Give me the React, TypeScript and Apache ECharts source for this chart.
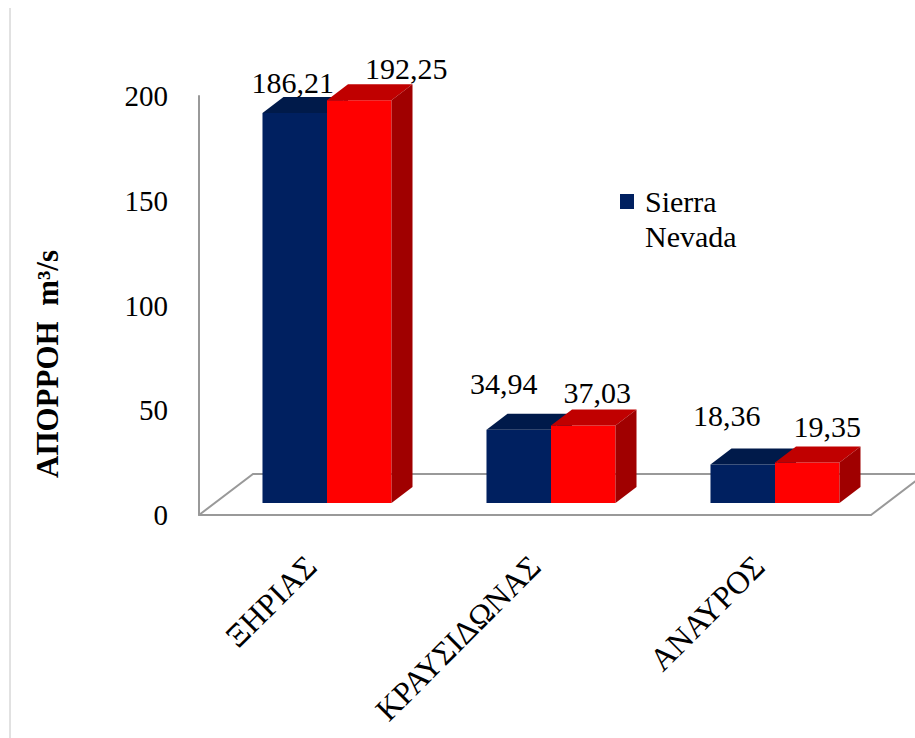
import React, { useEffect, useRef } from "react";
import * as echarts from "echarts";

const categories = ["ΞΗΡΙΑΣ", "ΚΡΑΥΣΙΔΩΝΑΣ", "ΑΝΑΥΡΟΣ"];
const sierraNevada = [186.21, 34.94, 18.36];
const secondSeries = [192.25, 37.03, 19.35];
const yTicks = { min: 0, max: 200, interval: 50 };

// label nudges (style only): [dx from front-face centre, dy from back-top edge]
const navyLabelNudge = [[-2, -14], [-15, -30], [-16, -33]];
const redLabelNudge = [[47, -16], [14, -17], [20, -20]];

const FONT = "Liberation Serif, Times New Roman, DejaVu Serif, serif";
const GRID = { left: 199, top: 96, width: 672, height: 419 };
const FLOOR_DX = 54, FLOOR_DY = -41; // floor depth
const BAR_OFF_X = 16, BAR_OFF_Y = -12; // floor front -> bar front
const BAR_DX = 21, BAR_DY = -16; // bar depth
const BAR_FRAC = 0.288;

const COLORS = [
  { front: "#002060", top: "#001A4A", side: "#00163D" },
  { front: "#FF0000", top: "#C00000", side: "#A00000" },
];

function makeRender(k: number, nudges: number[][]) {
  return (params: any, api: any) => {
    const ci = api.value(0);
    const v = api.value(1);
    const base = api.coord([ci, 0]);
    const top = api.coord([ci, v]);
    const band = api.size([1, 0])[0];
    const bw = band * BAR_FRAC;
    const x0 = base[0] + BAR_OFF_X - bw + k * bw;
    const x1 = x0 + bw;
    const yb = base[1] + BAR_OFF_Y;
    const yt = top[1] + BAR_OFF_Y;
    const c = COLORS[k];
    const nd = nudges[params.dataIndex] || [0, -14];
    return {
      type: "group",
      children: [
        { type: "rect", shape: { x: x0, y: yt, width: bw, height: yb - yt }, style: { fill: c.front } },
        {
          type: "polygon",
          shape: { points: [[x0, yt], [x1, yt], [x1 + BAR_DX, yt + BAR_DY], [x0 + BAR_DX, yt + BAR_DY]] },
          style: { fill: c.top },
        },
        {
          type: "polygon",
          shape: { points: [[x1, yt], [x1 + BAR_DX, yt + BAR_DY], [x1 + BAR_DX, yb + BAR_DY], [x1, yb]] },
          style: { fill: c.side },
        },
        {
          type: "text",
          style: {
            text: v.toFixed(2).replace(".", ","),
            x: (x0 + x1) / 2 + nd[0],
            y: yt + BAR_DY + nd[1],
            align: "center",
            verticalAlign: "middle",
            fontFamily: FONT,
            fontSize: 30,
            fill: "#000",
          },
          z2: 10,
        },
      ],
    };
  };
}

export default function App() {
  const ref = useRef<HTMLDivElement>(null);
  useEffect(() => {
    if (!ref.current) return;
    const chart = echarts.init(ref.current, null, { renderer: "svg" });
    const fl = GRID.left, fr = GRID.left + GRID.width, fy = GRID.top + GRID.height;
    chart.setOption({
      animation: false,
      backgroundColor: "#fff",
      textStyle: { fontFamily: FONT },
      grid: { ...GRID, containLabel: false },
      xAxis: {
        type: "category",
        data: categories,
        boundaryGap: true,
        axisLine: { show: true, lineStyle: { color: "#999", width: 2 } },
        axisTick: { show: false },
        axisLabel: { rotate: 45, margin: 46, interval: 0, fontFamily: FONT, fontSize: 32, color: "#000" },
        splitLine: { show: false },
      },
      yAxis: {
        type: "value",
        min: yTicks.min,
        max: yTicks.max,
        interval: yTicks.interval,
        axisLine: { show: true, lineStyle: { color: "#999", width: 2 } },
        axisTick: { show: false },
        axisLabel: { margin: 31, fontFamily: FONT, fontSize: 29, color: "#000" },
        splitLine: { show: false },
      },
      legend: { show: false },
      graphic: [
        { type: "line", shape: { x1: 10, y1: 8, x2: 10, y2: 738 }, style: { stroke: "#C4C4C4", lineWidth: 1 }, silent: true },
        {
          type: "polyline",
          shape: { points: [[fl, fy], [fl + FLOOR_DX, fy + FLOOR_DY], [fr + FLOOR_DX, fy + FLOOR_DY], [fr, fy]] },
          style: { stroke: "#999", lineWidth: 2, fill: null },
          silent: true,
        },
        {
          type: "text",
          x: 47,
          y: 364,
          rotation: Math.PI / 2,
          style: {
            text: "ΑΠΟΡΡΟΗ  m³/s",
            fontFamily: FONT,
            fontSize: 31,
            fontWeight: "bold",
            fill: "#000",
            align: "center",
            verticalAlign: "middle",
          },
        },
        { type: "rect", shape: { x: 620, y: 194, width: 14, height: 15 }, style: { fill: COLORS[0].front } },
        {
          type: "text",
          x: 645,
          y: 184,
          style: {
            text: "Sierra\nNevada",
            fontFamily: FONT,
            fontSize: 30,
            lineHeight: 35,
            fill: "#000",
            align: "left",
            verticalAlign: "top",
          },
        },
      ],
      series: [
        {
          name: "Sierra Nevada",
          type: "custom",
          renderItem: makeRender(0, navyLabelNudge),
          data: sierraNevada.map((v, i) => [i, v]),
          encode: { x: 0, y: 1 },
          z: 2,
        },
        {
          name: "Series 2",
          type: "custom",
          renderItem: makeRender(1, redLabelNudge),
          data: secondSeries.map((v, i) => [i, v]),
          encode: { x: 0, y: 1 },
          z: 3,
        },
      ],
    });
    return () => chart.dispose();
  }, []);
  return <div ref={ref} style={{ position: "absolute", left: 0, top: 0, width: 915, height: 738 }} />;
}
